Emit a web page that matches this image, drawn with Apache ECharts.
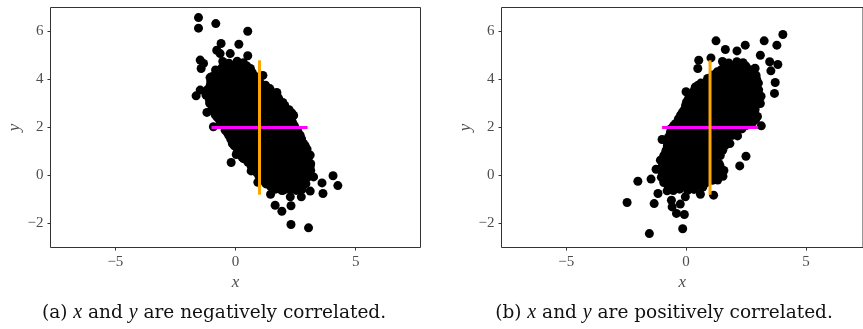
<!DOCTYPE html>
<html>
<head>
<meta charset="utf-8">
<script src="https://cdn.jsdelivr.net/npm/echarts@6/dist/echarts.min.js"></script>
<style>
  html, body {margin: 0; padding: 0; background: #fff;}
  #main {width: 863px; height: 329px;}
</style>
</head>
<body>
<div id="main"></div>
<script>
// tick labels
const xTicks = [-5, 0, 5];
const yTicks = [-2, 0, 2, 4, 6];

// mean marker: x = 1 (orange, vertical), y = 2 (magenta, horizontal)
const meanX = 1;
const meanY = 2;
const spanY = [-0.8, 4.8];
const spanX = [-1, 3];

// (a) negatively correlated - loose points
const negOuter = [
  [-1.54, 6.58], [-1.54, 6.14], [-0.82, 6.33], [0.51, 6.01], [-0.6, 5.5], [0.14, 5.47],
  [-0.78, 5.22], [-0.64, 5.08], [-0.22, 5.08], [0.51, 4.99], [-1.47, 4.81], [-1.33, 4.67],
  [-1.43, 4.46], [-1.06, 4.08], [1.14, 4.17], [-1.64, 3.32], [-1.47, 3.56], [-1.19, 2.63],
  [-0.92, 2.03], [-0.85, 2.54], [-0.18, 0.54], [0.03, 0.875], [0.33, 0.71], [0.65, 0.19],
  [0.93, -0.28], [1.46, -0.78], [1.65, -1.24], [1.93, -1.49], [2.0, -0.61], [2.28, -0.89],
  [2.31, -1.26], [2.31, -2.04], [3.04, -2.18], [2.74, -0.89], [3.11, -0.65], [3.11, 0.85],
  [3.25, -0.06], [3.6, -0.31], [3.64, -0.75], [4.06, -0.01], [4.26, -0.42], [3.11, 0.4],
  [2.9, 1.19], [2.69, 1.68], [2.35, 2.51], [1.97, 3.04], [1.72, 3.46], [1.42, 3.56]
];
// (a) the dense core
const negCore = [
  [-0.53, 4.75], [-0.27, 4.68], [0.07, 4.76], [0.33, 4.7],
  [-0.83, 4.4], [-0.57, 4.48], [-0.18, 4.41], [0.12, 4.47], [0.38, 4.42], [0.62, 4.46],
  [-0.97, 4.13], [-0.62, 4.2], [-0.37, 4.12], [-0.03, 4.19], [0.23, 4.14], [0.57, 4.2], [0.83, 4.12],
  [-1.03, 3.92], [-0.77, 3.84], [-0.43, 3.9], [-0.12, 3.85], [0.22, 3.91], [0.48, 3.84], [0.82, 3.9], [1.03, 3.86],
  [-1.18, 3.57], [-0.92, 3.63], [-0.58, 3.56], [-0.32, 3.64], [0.02, 3.58], [0.28, 3.62], [0.62, 3.57], [0.88, 3.63], [1.22, 3.58], [1.43, 3.62],
  [-1.23, 3.35], [-0.97, 3.29], [-0.63, 3.34], [-0.37, 3.28], [-0.03, 3.35], [0.23, 3.3], [0.57, 3.34], [0.83, 3.28], [1.17, 3.35], [1.43, 3.3], [1.73, 3.34],
  [-1.08, 3.02], [-0.82, 3.07], [-0.48, 3.01], [-0.22, 3.06], [0.12, 3.0], [0.38, 3.07], [0.72, 3.02], [0.98, 3.06], [1.32, 3.01], [1.58, 3.07], [1.88, 3.02],
  [-0.98, 2.79], [-0.72, 2.73], [-0.38, 2.78], [-0.12, 2.74], [0.22, 2.79], [0.48, 2.73], [0.82, 2.78], [1.08, 2.74], [1.42, 2.79], [1.68, 2.73], [2.02, 2.78], [2.23, 2.74],
  [-0.78, 2.45], [-0.52, 2.51], [-0.18, 2.46], [0.08, 2.5], [0.42, 2.45], [0.68, 2.51], [1.02, 2.46], [1.28, 2.5], [1.62, 2.45], [1.88, 2.51], [2.22, 2.46], [2.42, 2.5],
  [-0.63, 2.23], [-0.37, 2.17], [-0.03, 2.22], [0.23, 2.18], [0.57, 2.23], [0.83, 2.17], [1.17, 2.22], [1.43, 2.18], [1.77, 2.23], [2.03, 2.17], [2.37, 2.22],
  [-0.43, 1.89], [-0.17, 1.95], [0.17, 1.9], [0.43, 1.94], [0.77, 1.89], [1.03, 1.95], [1.37, 1.9], [1.63, 1.94], [1.97, 1.89], [2.23, 1.95], [2.57, 1.9],
  [-0.28, 1.67], [-0.02, 1.61], [0.32, 1.66], [0.58, 1.62], [0.92, 1.67], [1.18, 1.61], [1.52, 1.66], [1.78, 1.62], [2.12, 1.67], [2.38, 1.61], [2.68, 1.66],
  [-0.13, 1.33], [0.13, 1.39], [0.47, 1.34], [0.73, 1.38], [1.07, 1.33], [1.33, 1.39], [1.67, 1.34], [1.93, 1.38], [2.27, 1.33], [2.53, 1.39], [2.83, 1.34],
  [0.07, 1.11], [0.33, 1.05], [0.67, 1.1], [0.93, 1.06], [1.27, 1.11], [1.53, 1.05], [1.87, 1.1], [2.13, 1.06], [2.47, 1.11], [2.73, 1.05], [2.98, 1.1],
  [0.27, 0.77], [0.53, 0.83], [0.87, 0.78], [1.13, 0.82], [1.47, 0.77], [1.73, 0.83], [2.07, 0.78], [2.33, 0.82], [2.67, 0.77], [2.93, 0.83],
  [0.52, 0.55], [0.78, 0.49], [1.12, 0.54], [1.38, 0.5], [1.72, 0.55], [1.98, 0.49], [2.32, 0.54], [2.58, 0.5], [2.92, 0.55], [3.13, 0.49],
  [0.77, 0.21], [1.03, 0.27], [1.37, 0.22], [1.63, 0.26], [1.97, 0.21], [2.23, 0.27], [2.57, 0.22], [2.83, 0.26], [3.13, 0.21],
  [0.97, -0.01], [1.23, -0.07], [1.57, -0.02], [1.83, -0.06], [2.17, -0.01], [2.43, -0.07], [2.77, -0.02], [3.03, -0.06],
  [1.27, -0.35], [1.53, -0.29], [1.87, -0.34], [2.13, -0.3], [2.47, -0.35], [2.73, -0.29], [2.93, -0.34],
  [1.67, -0.57], [1.93, -0.63], [2.27, -0.58], [2.53, -0.62], [2.78, -0.57]
];
// (a) points hidden between the core rows
const negFill = [
  [-0.4, 4.6], [-0.1, 4.56], [0.2, 4.6], [0.48, 4.56],
  [-0.75, 4.32], [-0.45, 4.28], [-0.15, 4.32], [0.15, 4.28], [0.45, 4.32], [0.7, 4.28],
  [-0.85, 4.04], [-0.55, 4.0], [-0.25, 4.04], [0.05, 4.0], [0.35, 4.04], [0.65, 4.0], [0.92, 4.04],
  [-1.05, 3.76], [-0.75, 3.72], [-0.45, 3.76], [-0.15, 3.72], [0.15, 3.76], [0.45, 3.72], [0.75, 3.76], [1.05, 3.72], [1.25, 3.76],
  [-1.1, 3.48], [-0.8, 3.44], [-0.5, 3.48], [-0.2, 3.44], [0.1, 3.48], [0.4, 3.44], [0.7, 3.48], [1.0, 3.44], [1.3, 3.48], [1.58, 3.44],
  [-1.1, 3.2], [-0.8, 3.16], [-0.5, 3.2], [-0.2, 3.16], [0.1, 3.2], [0.4, 3.16], [0.7, 3.2], [1.0, 3.16], [1.3, 3.2], [1.6, 3.16], [1.8, 3.2],
  [-0.95, 2.92], [-0.65, 2.88], [-0.35, 2.92], [-0.05, 2.88], [0.25, 2.92], [0.55, 2.88], [0.85, 2.92], [1.15, 2.88], [1.45, 2.92], [1.75, 2.88], [2.05, 2.92],
  [-0.85, 2.64], [-0.55, 2.6], [-0.25, 2.64], [0.05, 2.6], [0.35, 2.64], [0.65, 2.6], [0.95, 2.64], [1.25, 2.6], [1.55, 2.64], [1.85, 2.6], [2.15, 2.64], [2.35, 2.6],
  [-0.7, 2.36], [-0.4, 2.32], [-0.1, 2.36], [0.2, 2.32], [0.5, 2.36], [0.8, 2.32], [1.1, 2.36], [1.4, 2.32], [1.7, 2.36], [2.0, 2.32], [2.3, 2.36],
  [-0.5, 2.08], [-0.2, 2.04], [0.1, 2.08], [0.4, 2.04], [0.7, 2.08], [1.0, 2.04], [1.3, 2.08], [1.6, 2.04], [1.9, 2.08], [2.2, 2.04], [2.45, 2.08],
  [-0.35, 1.8], [-0.05, 1.76], [0.25, 1.8], [0.55, 1.76], [0.85, 1.8], [1.15, 1.76], [1.45, 1.8], [1.75, 1.76], [2.05, 1.8], [2.35, 1.76], [2.6, 1.8],
  [-0.2, 1.52], [0.1, 1.48], [0.4, 1.52], [0.7, 1.48], [1.0, 1.52], [1.3, 1.48], [1.6, 1.52], [1.9, 1.48], [2.2, 1.52], [2.5, 1.48], [2.75, 1.52],
  [-0.05, 1.24], [0.25, 1.2], [0.55, 1.24], [0.85, 1.2], [1.15, 1.24], [1.45, 1.2], [1.75, 1.24], [2.05, 1.2], [2.35, 1.24], [2.65, 1.2], [2.9, 1.24],
  [0.15, 0.96], [0.45, 0.92], [0.75, 0.96], [1.05, 0.92], [1.35, 0.96], [1.65, 0.92], [1.95, 0.96], [2.25, 0.92], [2.55, 0.96], [2.85, 0.92],
  [0.4, 0.68], [0.7, 0.64], [1.0, 0.68], [1.3, 0.64], [1.6, 0.68], [1.9, 0.64], [2.2, 0.68], [2.5, 0.64], [2.8, 0.68], [3.02, 0.64],
  [0.65, 0.4], [0.95, 0.36], [1.25, 0.4], [1.55, 0.36], [1.85, 0.4], [2.15, 0.36], [2.45, 0.4], [2.75, 0.36], [3.05, 0.4],
  [0.88, 0.12], [1.18, 0.08], [1.48, 0.12], [1.78, 0.08], [2.08, 0.12], [2.38, 0.08], [2.68, 0.12], [2.98, 0.08],
  [1.1, -0.16], [1.4, -0.2], [1.7, -0.16], [2.0, -0.2], [2.3, -0.16], [2.6, -0.2], [2.9, -0.16],
  [1.45, -0.44], [1.75, -0.48], [2.05, -0.44], [2.35, -0.48], [2.65, -0.44]
];

// (b) positively correlated - loose points
const posOuter = [
  [4.04, 5.875], [3.26, 5.61], [1.25, 5.61], [2.47, 5.43], [3.79, 5.43], [2.125, 5.19],
  [1.64, 5.25], [3.1, 5.01], [1.04, 4.9], [0.53, 4.8], [0.49, 4.46], [3.49, 4.74],
  [3.83, 4.625], [3.54, 4.36], [3.72, 3.875], [3.69, 3.42], [0.0, 3.49], [0.39, 3.69],
  [3.1, 3.0], [3.14, 2.07], [2.15, 1.65], [2.5, 0.8], [2.24, 0.4], [-1.0, 1.5],
  [-1.07, 0.64], [-1.25, 0.26], [-2.01, -0.24], [-1.46, -0.15], [-2.46, -1.125], [-1.33, -1.17],
  [-1.17, -0.75], [-0.79, -0.64], [-0.61, -1.03], [-0.58, -1.31], [-0.4, -1.58], [-0.24, -1.19],
  [-0.07, -1.625], [-0.03, -0.89], [-0.14, -2.22], [-1.53, -2.42], [0.6, -0.78], [1.15, -0.82],
  [1.32, -0.19], [1.54, -0.03], [1.36, 0.08]
];
// (b) the dense core
const posCore = [
  [1.52, 4.75], [1.78, 4.69], [2.12, 4.74], [2.38, 4.7],
  [1.47, 4.41], [1.73, 4.47], [2.07, 4.42], [2.33, 4.46], [2.67, 4.41], [2.88, 4.47],
  [1.12, 4.19], [1.38, 4.13], [1.72, 4.18], [1.98, 4.14], [2.32, 4.19], [2.58, 4.13], [2.92, 4.18],
  [0.62, 3.85], [0.88, 3.91], [1.22, 3.86], [1.48, 3.9], [1.82, 3.85], [2.08, 3.91], [2.42, 3.86], [2.68, 3.9], [3.02, 3.85],
  [0.37, 3.63], [0.63, 3.57], [0.97, 3.62], [1.23, 3.58], [1.57, 3.63], [1.83, 3.57], [2.17, 3.62], [2.43, 3.58], [2.77, 3.63], [3.03, 3.57],
  [0.17, 3.29], [0.43, 3.35], [0.77, 3.3], [1.03, 3.34], [1.37, 3.29], [1.63, 3.35], [1.97, 3.3], [2.23, 3.34], [2.57, 3.29], [2.83, 3.35], [3.13, 3.3],
  [0.02, 3.07], [0.28, 3.01], [0.62, 3.06], [0.88, 3.02], [1.22, 3.07], [1.48, 3.01], [1.82, 3.06], [2.08, 3.02], [2.42, 3.07], [2.68, 3.01], [2.98, 3.06],
  [-0.08, 2.73], [0.18, 2.79], [0.52, 2.74], [0.78, 2.78], [1.12, 2.73], [1.38, 2.79], [1.72, 2.74], [1.98, 2.78], [2.32, 2.73], [2.58, 2.79], [2.88, 2.74],
  [-0.23, 2.51], [0.03, 2.45], [0.37, 2.5], [0.63, 2.46], [0.97, 2.51], [1.23, 2.45], [1.57, 2.5], [1.83, 2.46], [2.17, 2.51], [2.43, 2.45], [2.77, 2.5], [2.98, 2.46],
  [-0.43, 2.17], [-0.17, 2.23], [0.17, 2.18], [0.43, 2.22], [0.77, 2.17], [1.03, 2.23], [1.37, 2.18], [1.63, 2.22], [1.97, 2.17], [2.23, 2.23], [2.57, 2.18], [2.78, 2.22],
  [-0.63, 1.95], [-0.37, 1.89], [-0.03, 1.94], [0.23, 1.9], [0.57, 1.95], [0.83, 1.89], [1.17, 1.94], [1.43, 1.9], [1.77, 1.95], [2.03, 1.89], [2.33, 1.94],
  [-0.73, 1.61], [-0.47, 1.67], [-0.13, 1.62], [0.13, 1.66], [0.47, 1.61], [0.73, 1.67], [1.07, 1.62], [1.33, 1.66], [1.67, 1.61], [1.93, 1.67],
  [-0.78, 1.39], [-0.52, 1.33], [-0.18, 1.38], [0.08, 1.34], [0.42, 1.39], [0.68, 1.33], [1.02, 1.38], [1.28, 1.34], [1.62, 1.39], [1.83, 1.33],
  [-0.83, 1.05], [-0.57, 1.11], [-0.23, 1.06], [0.03, 1.1], [0.37, 1.05], [0.63, 1.11], [0.97, 1.06], [1.23, 1.1], [1.53, 1.05],
  [-0.93, 0.83], [-0.67, 0.77], [-0.33, 0.82], [-0.07, 0.78], [0.27, 0.83], [0.53, 0.77], [0.87, 0.82], [1.13, 0.78], [1.43, 0.83],
  [-0.98, 0.49], [-0.72, 0.55], [-0.38, 0.5], [-0.12, 0.54], [0.22, 0.49], [0.48, 0.55], [0.82, 0.5], [1.08, 0.54], [1.38, 0.49],
  [-1.03, 0.27], [-0.77, 0.21], [-0.43, 0.26], [-0.17, 0.22], [0.17, 0.27], [0.43, 0.21], [0.77, 0.26], [1.03, 0.22], [1.37, 0.27], [1.58, 0.21],
  [-1.03, -0.07], [-0.77, -0.01], [-0.43, -0.06], [-0.17, -0.02], [0.17, -0.07], [0.43, -0.01], [0.77, -0.06], [1.03, -0.02], [1.28, -0.07],
  [-0.93, -0.29], [-0.67, -0.35], [-0.33, -0.3], [-0.07, -0.34], [0.27, -0.29], [0.53, -0.35], [0.83, -0.3],
  [-0.53, -0.63], [-0.27, -0.57], [0.07, -0.62], [0.33, -0.58]
];
// (b) points hidden between the core rows
const posFill = [
  [1.6, 4.6], [1.9, 4.56], [2.2, 4.6], [2.5, 4.56],
  [1.3, 4.32], [1.6, 4.28], [1.9, 4.32], [2.2, 4.28], [2.5, 4.32], [2.8, 4.28],
  [0.9, 4.04], [1.2, 4.0], [1.5, 4.04], [1.8, 4.0], [2.1, 4.04], [2.4, 4.0], [2.7, 4.04], [2.95, 4.0],
  [0.5, 3.76], [0.8, 3.72], [1.1, 3.76], [1.4, 3.72], [1.7, 3.76], [2.0, 3.72], [2.3, 3.76], [2.6, 3.72], [2.9, 3.76],
  [0.3, 3.48], [0.6, 3.44], [0.9, 3.48], [1.2, 3.44], [1.5, 3.48], [1.8, 3.44], [2.1, 3.48], [2.4, 3.44], [2.7, 3.48], [3.0, 3.44],
  [0.1, 3.2], [0.4, 3.16], [0.7, 3.2], [1.0, 3.16], [1.3, 3.2], [1.6, 3.16], [1.9, 3.2], [2.2, 3.16], [2.5, 3.2], [2.8, 3.16], [3.05, 3.2],
  [-0.02, 2.92], [0.28, 2.88], [0.58, 2.92], [0.88, 2.88], [1.18, 2.92], [1.48, 2.88], [1.78, 2.92], [2.08, 2.88], [2.38, 2.92], [2.68, 2.88], [2.92, 2.92],
  [-0.15, 2.64], [0.15, 2.6], [0.45, 2.64], [0.75, 2.6], [1.05, 2.64], [1.35, 2.6], [1.65, 2.64], [1.95, 2.6], [2.25, 2.64], [2.55, 2.6], [2.85, 2.64],
  [-0.32, 2.36], [-0.02, 2.32], [0.28, 2.36], [0.58, 2.32], [0.88, 2.36], [1.18, 2.32], [1.48, 2.36], [1.78, 2.32], [2.08, 2.36], [2.38, 2.32], [2.68, 2.36], [2.9, 2.32],
  [-0.52, 2.08], [-0.22, 2.04], [0.08, 2.08], [0.38, 2.04], [0.68, 2.08], [0.98, 2.04], [1.28, 2.08], [1.58, 2.04], [1.88, 2.08], [2.18, 2.04], [2.5, 2.08],
  [-0.65, 1.8], [-0.35, 1.76], [-0.05, 1.8], [0.25, 1.76], [0.55, 1.8], [0.85, 1.76], [1.15, 1.8], [1.45, 1.76], [1.75, 1.8], [2.05, 1.76],
  [-0.72, 1.52], [-0.42, 1.48], [-0.12, 1.52], [0.18, 1.48], [0.48, 1.52], [0.78, 1.48], [1.08, 1.52], [1.38, 1.48], [1.68, 1.52],
  [-0.78, 1.24], [-0.48, 1.2], [-0.18, 1.24], [0.12, 1.2], [0.42, 1.24], [0.72, 1.2], [1.02, 1.24], [1.32, 1.2], [1.62, 1.24],
  [-0.85, 0.96], [-0.55, 0.92], [-0.25, 0.96], [0.05, 0.92], [0.35, 0.96], [0.65, 0.92], [0.95, 0.96], [1.25, 0.92],
  [-0.92, 0.68], [-0.62, 0.64], [-0.32, 0.68], [-0.02, 0.64], [0.28, 0.68], [0.58, 0.64], [0.88, 0.68], [1.18, 0.64],
  [-0.98, 0.4], [-0.68, 0.36], [-0.38, 0.4], [-0.08, 0.36], [0.22, 0.4], [0.52, 0.36], [0.82, 0.4], [1.12, 0.36], [1.42, 0.4],
  [-1.0, 0.12], [-0.7, 0.08], [-0.4, 0.12], [-0.1, 0.08], [0.2, 0.12], [0.5, 0.08], [0.8, 0.12], [1.1, 0.08], [1.4, 0.12],
  [-0.95, -0.16], [-0.65, -0.2], [-0.35, -0.16], [-0.05, -0.2], [0.25, -0.16], [0.55, -0.2], [0.85, -0.16], [1.1, -0.2],
  [-0.75, -0.44], [-0.45, -0.48], [-0.15, -0.44], [0.15, -0.48], [0.45, -0.44], [0.7, -0.48]
];

const captions = [
  ['(a) ', 'x', ' and ', 'y', ' are negatively correlated.'],
  ['(b) ', 'x', ' and ', 'y', ' are positively correlated.']
];

const myChart = echarts.init(document.getElementById('main'), null, {renderer: 'canvas'});

const serif = 'Liberation Serif';
const tickColor = '#4d4d4d';
const minus = v => String(v).replace('-', '\u2212');

// right panel is cut by the page edge, so its x range stops early
const makeX = (i, xmax) => ({
  gridIndex: i, type: 'value', min: -7.7, max: xmax,
  name: 'x', nameLocation: 'middle', nameGap: 19,
  nameTextStyle: {fontFamily: serif, fontStyle: 'italic', fontSize: 17, color: tickColor},
  axisLine: {show: false, onZero: false},
  axisTick: {show: true, length: 3, lineStyle: {color: '#333'}, customValues: xTicks},
  axisLabel: {margin: 7, color: tickColor, fontFamily: serif, fontSize: 15, customValues: xTicks, formatter: minus},
  splitLine: {show: false}
});
const makeY = i => ({
  gridIndex: i, type: 'value', min: -3, max: 7,
  name: 'y', nameLocation: 'middle', nameGap: 27,
  nameTextStyle: {fontFamily: serif, fontStyle: 'italic', fontSize: 17, color: tickColor},
  axisLine: {show: false, onZero: false},
  axisTick: {show: true, length: 3, lineStyle: {color: '#333'}, customValues: yTicks},
  axisLabel: {margin: 7, color: tickColor, fontFamily: serif, fontSize: 15, customValues: yTicks, formatter: minus},
  splitLine: {show: false}
});

const panel = (i, pts) => [
  {
    type: 'scatter', xAxisIndex: i, yAxisIndex: i, data: pts,
    symbolSize: 9, itemStyle: {color: '#000', opacity: 1}, z: 2
  },
  {
    type: 'line', xAxisIndex: i, yAxisIndex: i, symbol: 'none',
    data: spanX.map(v => [v, meanY]),
    lineStyle: {color: '#ff00ff', width: 3}, z: 3
  },
  {
    type: 'line', xAxisIndex: i, yAxisIndex: i, symbol: 'none',
    data: spanY.map(v => [meanX, v]),
    lineStyle: {color: '#ffa500', width: 3}, z: 4
  }
];

const caption = (parts, cx) => ({
  type: 'text', x: cx, y: 313,
  style: {
    text: parts.map((p, k) => (k % 2 ? '{m|' : '{r|') + p + '}').join(''),
    align: 'center', verticalAlign: 'middle',
    rich: {
      r: {fontFamily: 'DejaVu Serif', fontSize: 18.5, fill: '#111'},
      m: {fontFamily: serif, fontStyle: 'italic', fontSize: 20, fill: '#111'}
    }
  }
});

myChart.setOption({
  animation: false,
  backgroundColor: '#fff',
  grid: [
    {left: 50.5, top: 7.5, width: 370, height: 240, show: true, borderColor: '#333', borderWidth: 1, backgroundColor: '#fff'},
    {left: 501.5, top: 7.5, width: 362, height: 240, show: true, borderColor: '#333', borderWidth: 1, backgroundColor: '#fff'}
  ],
  xAxis: [makeX(0, 7.7), makeX(1, -7.7 + 362 / 24)],
  yAxis: [makeY(0), makeY(1)],
  series: [
    ...panel(0, negOuter.concat(negCore, negFill)),
    ...panel(1, posOuter.concat(posCore, posFill))
  ],
  graphic: [caption(captions[0], 214), caption(captions[1], 664)]
});
</script>
</body>
</html>
